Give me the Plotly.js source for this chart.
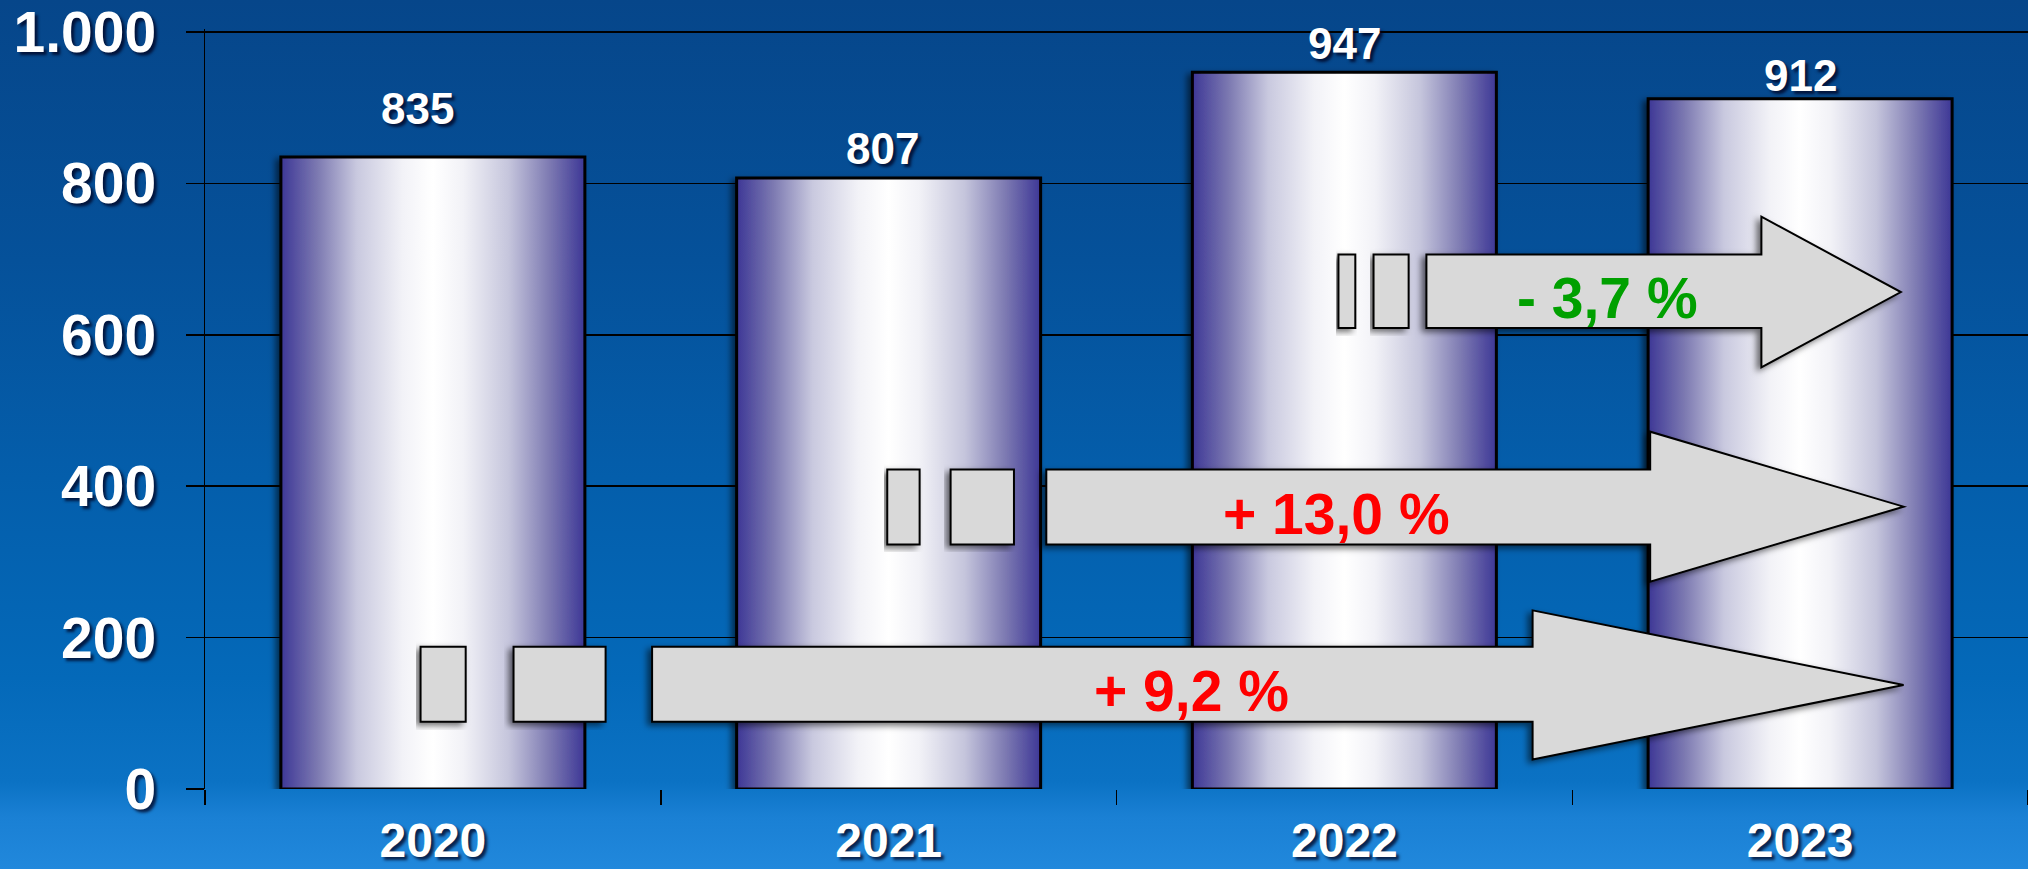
<!DOCTYPE html>
<html><head><meta charset="utf-8">
<script src="https://cdn.plot.ly/plotly-3.0.1.min.js"></script>
<style>
html,body{margin:0;padding:0;width:2028px;height:869px;overflow:hidden;}
#chart{width:2028px;height:869px;background:linear-gradient(to bottom,#06468a 0%,#05519a 30%,#045eab 55%,#0469b9 78%,#0b72c4 90%,#1a80d4 94%,#2188dc 100%);}
</style></head><body><div id="chart"></div>
<script>
// ---- data ----
const years = ['2020', '2021', '2022', '2023'];
const values = [835, 807, 947, 912];
const yTickVals = [0, 200, 400, 600, 800, 1000];
const yTickText = ['0', '200', '400', '600', '800', '1.000'];
const changeFrom = ['2020', '2021', '2022'];
const changeTo = ['2023', '2023', '2023'];

// ---- style / placement (not data) ----
const FONT = 'Liberation Sans, Arial, sans-serif';
const SHADOW = '3px 3px 3px rgba(0,0,30,0.75)';
const labelShiftY = [22, 3, 2, -3];   // extra px above bar top for value labels
const labelShiftX = [-15, -6, 0, 0];
// arrow geometry, in category-index / value units
const arrowGeom = [
  {rects: [[-0.027, 0.072], [0.177, 0.379]], body: 0.481, base: 2.413, tip: 3.227, bodyY: [89, 188], headY: [39, 236], textX: 1.665},
  {rects: [[0.997, 1.068], [1.136, 1.275]], body: 1.346, base: 2.671, tip: 3.227, bodyY: [323, 422], headY: [274, 472], textX: 1.983},
  {rects: [[1.987, 2.024], [2.064, 2.141]], body: 2.180, base: 2.915, tip: 3.221, bodyY: [609, 706], headY: [557, 756], textX: 2.577}
];

const traces = [{
  type: 'bar', x: years, y: values,
  marker: {color: '#ffffff', line: {color: '#000000', width: 3}},
  hoverinfo: 'skip'
}];

const shapes = [];
const annotations = [];
values.forEach((v, i) => {
  annotations.push({
    x: years.indexOf(years[i]), y: v, xref: 'x', yref: 'y', text: String(v), showarrow: false,
    xanchor: 'center', yanchor: 'bottom', yshift: labelShiftY[i], xshift: labelShiftX[i],
    font: {family: FONT, size: 44, color: '#ffffff', weight: 'bold', shadow: SHADOW}
  });
});

changeFrom.forEach((f, k) => {
  const a = arrowGeom[k];
  const i0 = years.indexOf(f), i1 = years.indexOf(changeTo[k]);
  const pct = (values[i1] / values[i0] - 1) * 100;
  const txt = (pct >= 0 ? '+ ' : '- ') + Math.abs(pct).toFixed(1).replace('.', ',') + ' %';
  const col = pct >= 0 ? '#ff0000' : '#00a000';
  const line = {color: '#000000', width: 2};
  a.rects.forEach(r => shapes.push({type: 'rect', xref: 'x', yref: 'y', x0: r[0], x1: r[1], y0: a.bodyY[0], y1: a.bodyY[1], fillcolor: '#d9d9d9', line: line, layer: 'above'}));
  const cy = (a.headY[0] + a.headY[1]) / 2;
  const p = `M${a.body},${a.bodyY[0]} L${a.base},${a.bodyY[0]} L${a.base},${a.headY[0]} L${a.tip},${cy} L${a.base},${a.headY[1]} L${a.base},${a.bodyY[1]} L${a.body},${a.bodyY[1]} Z`;
  shapes.push({type: 'path', xref: 'x', yref: 'y', path: p, fillcolor: '#d9d9d9', line: line, layer: 'above'});
  annotations.push({
    x: a.textX, y: (a.bodyY[0] + a.bodyY[1]) / 2, xref: 'x', yref: 'y', text: txt, showarrow: false,
    xanchor: 'center', yanchor: 'middle', yshift: -7,
    font: {family: FONT, size: 57, color: col, weight: 'bold'}
  });
});

const layout = {
  width: 2028, height: 869,
  margin: {l: 205, r: 0, t: 29, b: 80, pad: 0},
  paper_bgcolor: 'rgba(0,0,0,0)', plot_bgcolor: 'rgba(0,0,0,0)',
  bargap: 0.333, showlegend: false,
  xaxis: {
    type: 'category', range: [-0.5, 3.5], tickson: 'boundaries', ticks: 'outside', ticklen: 15,
    tickcolor: '#000', tickwidth: 1.5, showgrid: false, showline: false, zeroline: false,
    ticklabelstandoff: 19,
    tickfont: {family: FONT, size: 48, color: '#ffffff', weight: 'bold', shadow: SHADOW}
  },
  yaxis: {
    range: [0, 1004], tickmode: 'array', tickvals: yTickVals, ticktext: yTickText,
    showgrid: true, gridcolor: '#000', gridwidth: 1.5, ticks: 'outside', ticklen: 18,
    tickcolor: '#000', tickwidth: 1.5, showline: true, linecolor: '#000', linewidth: 1.5,
    zeroline: false, ticklabelstandoff: 18, ticklabeloverflow: 'allow',
    tickfont: {family: FONT, size: 57, color: '#ffffff', weight: 'bold', shadow: SHADOW}
  },
  shapes: shapes, annotations: annotations
};

Plotly.newPlot('chart', traces, layout, {staticPlot: true}).then(gd => {
  const NS = 'http://www.w3.org/2000/svg';
  const svg = gd.querySelector('svg.main-svg');
  let defs = svg.querySelector('defs');
  if (!defs) { defs = document.createElementNS(NS, 'defs'); svg.insertBefore(defs, svg.firstChild); }
  const grad = document.createElementNS(NS, 'linearGradient');
  grad.setAttribute('id', 'barGrad'); grad.setAttribute('x1', '0'); grad.setAttribute('x2', '1'); grad.setAttribute('y1', '0'); grad.setAttribute('y2', '0');
  [[0, '#3d3796'], [0.12, '#7c79b1'], [0.25, '#c9c9df'], [0.4, '#f2f2f7'], [0.5, '#ffffff'], [0.6, '#f2f2f7'], [0.75, '#c5c5dc'], [0.88, '#7f7cb3'], [1, '#3d3796']].forEach(s => {
    const st = document.createElementNS(NS, 'stop'); st.setAttribute('offset', s[0]); st.setAttribute('stop-color', s[1]); grad.appendChild(st);
  });
  defs.appendChild(grad);
  const flt = document.createElementNS(NS, 'filter');
  flt.setAttribute('id', 'dshadow'); flt.setAttribute('x', '-10%'); flt.setAttribute('y', '-10%'); flt.setAttribute('width', '120%'); flt.setAttribute('height', '120%');
  const ds = document.createElementNS(NS, 'feDropShadow');
  ds.setAttribute('dx', '-4'); ds.setAttribute('dy', '3'); ds.setAttribute('stdDeviation', '3'); ds.setAttribute('flood-color', '#000'); ds.setAttribute('flood-opacity', '0.55');
  flt.appendChild(ds); defs.appendChild(flt);
  gd.querySelectorAll('.trace.bars .point path').forEach(p => { p.style.fill = 'url(#barGrad)'; p.style.filter = 'url(#dshadow)'; });
  gd.querySelectorAll('.shapelayer path').forEach(p => { p.style.filter = 'url(#dshadow)'; });
});
</script></body></html>
